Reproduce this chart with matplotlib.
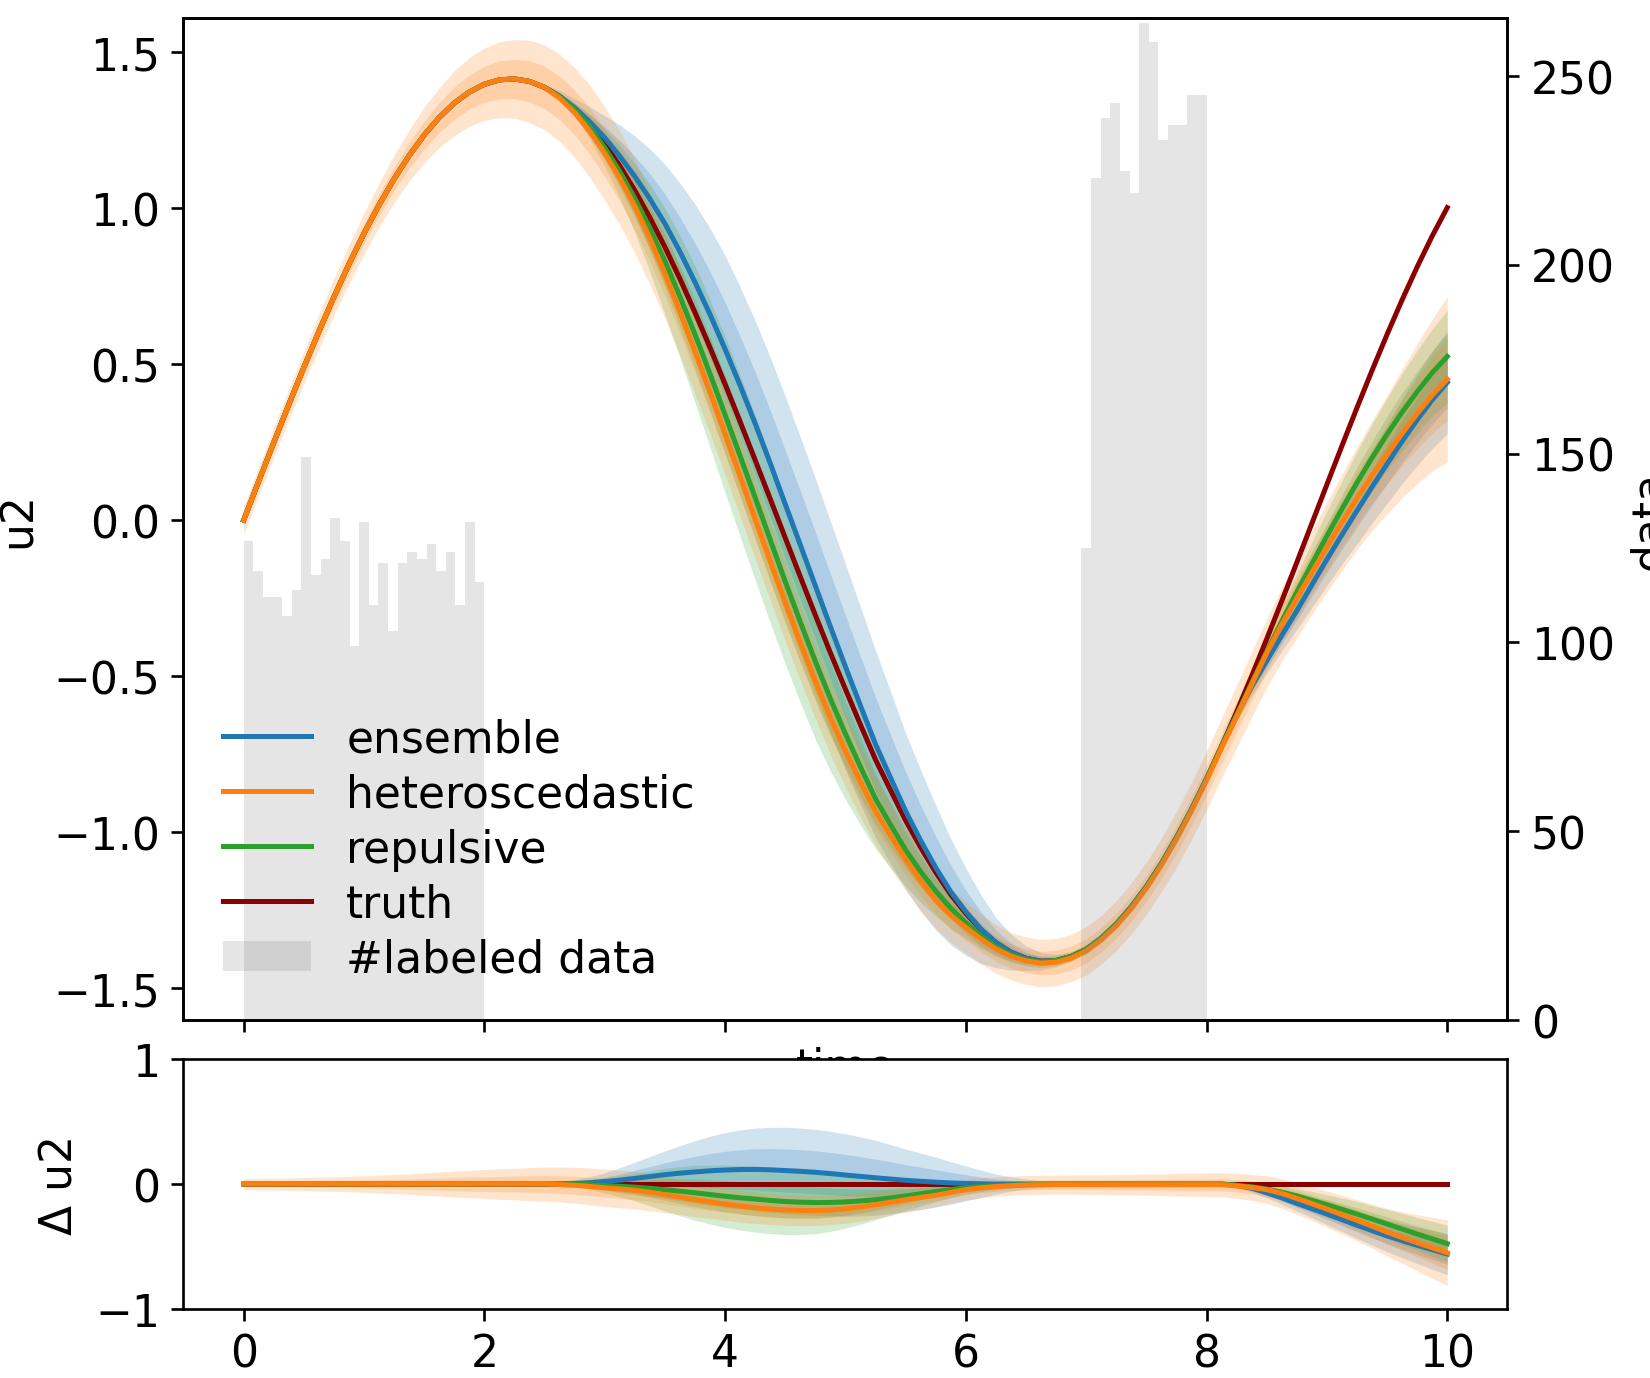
import matplotlib
matplotlib.use("Agg")
import matplotlib.pyplot as plt
import numpy as np

# sample times (read every 0.125)
T = np.linspace(0, 10, 81)

TRUTH = [0.0000, 0.1248, 0.2487, 0.3706, 0.4896, 0.6048, 0.7152, 0.8202, 0.9187, 1.0100,
         1.0935, 1.1684, 1.2342, 1.2903, 1.3367, 1.3720, 1.3969, 1.4109, 1.4139, 1.4059,
         1.3869, 1.3570, 1.3163, 1.2659, 1.2054, 1.1353, 1.0562, 0.9693, 0.8752, 0.7730,
         0.6654, 0.5528, 0.4357, 0.3152, 0.1922, 0.0679, -0.0571, -0.1816, -0.3047, -0.4255,
         -0.5421, -0.6561, -0.7680, -0.8659, -0.9625, -1.0491, -1.1286, -1.2001, -1.2601, -1.3125,
         -1.3540, -1.3847, -1.4041, -1.4137, -1.4114, -1.3985, -1.3755, -1.3400, -1.2946, -1.2394,
         -1.1744, -1.1003, -1.0175, -0.9269, -0.8290, -0.7247, -0.6146, -0.4998, -0.3810, -0.2593,
         -0.1356, -0.0107, 0.1141, 0.2380, 0.3602, 0.4796, 0.5951, 0.7061, 0.8114, 0.9105, 1.0014]

# model mean minus truth
D_ENS = [0.0] * 21 + [
    0.002, 0.005, 0.011, 0.02, 0.031, 0.045, 0.06, 0.075, 0.087, 0.097,
    0.106, 0.112, 0.116, 0.117, 0.114, 0.108, 0.102, 0.094, 0.084, 0.072,
    0.061, 0.05, 0.04, 0.03, 0.022, 0.015, 0.009, 0.005, 0.002] + [0.0] * 16 + [
    -0.01, -0.033, -0.07, -0.11, -0.155, -0.197, -0.24, -0.285, -0.33, -0.373,
    -0.415, -0.453, -0.49, -0.525, -0.56]
D_HET = [0.0] * 21 + [
    -0.004, -0.01, -0.019, -0.03, -0.039, -0.05, -0.066, -0.085, -0.105, -0.125,
    -0.143, -0.16, -0.176, -0.19, -0.2, -0.207, -0.211, -0.212, -0.207, -0.198,
    -0.183, -0.165, -0.145, -0.125, -0.107, -0.09, -0.067, -0.045, -0.03,
    -0.02, -0.013, -0.008, -0.006] + [-0.005] * 12 + [
    -0.015, -0.027, -0.045, -0.075, -0.115, -0.157, -0.2, -0.245, -0.29, -0.337,
    -0.385, -0.428, -0.47, -0.51, -0.55]
D_REP = [0.0] * 23 + [
    -0.005, -0.012, -0.018, -0.025, -0.034, -0.045, -0.057, -0.07, -0.084, -0.098,
    -0.11, -0.12, -0.131, -0.14, -0.145, -0.148, -0.147, -0.143, -0.135, -0.125,
    -0.111, -0.095, -0.078, -0.06, -0.044, -0.03, -0.02,
    -0.013, -0.008, -0.005, -0.002] + [0.0] * 12 + [
    -0.01, -0.022, -0.04, -0.065, -0.095, -0.13, -0.165, -0.202, -0.24, -0.28,
    -0.32, -0.36, -0.4, -0.438, -0.477]

# predictive std
S_ENS = [0.002] * 19 + [
    0.003, 0.005, 0.009, 0.015, 0.024, 0.035, 0.05, 0.065, 0.08, 0.095,
    0.11, 0.125, 0.138, 0.15, 0.158, 0.165, 0.17, 0.173, 0.173, 0.172,
    0.169, 0.165, 0.158, 0.15, 0.138, 0.125, 0.113, 0.1, 0.085, 0.07,
    0.055, 0.04, 0.029, 0.02, 0.014, 0.01, 0.007] + [0.005] * 9 + [
    0.007, 0.01, 0.015, 0.02, 0.025, 0.03, 0.036, 0.042, 0.047, 0.053,
    0.058, 0.063, 0.068, 0.073, 0.078, 0.082]
S_HET = [0.022, 0.023, 0.024, 0.025, 0.026, 0.0275, 0.029, 0.031, 0.033, 0.035,
         0.038, 0.041, 0.045, 0.048, 0.052, 0.055, 0.058, 0.061, 0.063, 0.066,
         0.068, 0.07, 0.072, 0.074, 0.075, 0.075, 0.075, 0.074, 0.072, 0.07,
         0.068, 0.066, 0.065, 0.064, 0.063, 0.062, 0.062, 0.061, 0.06, 0.059,
         0.058, 0.057, 0.055, 0.053, 0.05, 0.048, 0.045, 0.043, 0.041, 0.04,
         0.039, 0.038, 0.038, 0.038, 0.038, 0.038, 0.039, 0.039, 0.04, 0.041,
         0.042, 0.043, 0.045, 0.046, 0.047, 0.048, 0.05, 0.052, 0.055, 0.059,
         0.063, 0.067, 0.072, 0.077, 0.082, 0.088, 0.095, 0.103, 0.112, 0.122, 0.132]
S_REP = [0.003] * 21 + [
    0.006, 0.01, 0.019, 0.03, 0.042, 0.055, 0.07, 0.085, 0.098, 0.11,
    0.118, 0.125, 0.129, 0.132, 0.133, 0.132, 0.129, 0.125, 0.116, 0.105,
    0.093, 0.08, 0.069, 0.058, 0.049, 0.04, 0.032, 0.025, 0.02, 0.015,
    0.012, 0.01, 0.009] + [0.008] * 11 + [
    0.009, 0.01, 0.015, 0.02, 0.025, 0.03, 0.035, 0.04, 0.045, 0.05,
    0.054, 0.058, 0.062, 0.066, 0.07, 0.074]

# labeled data histogram (bin width 0.08)
BIN_W = 0.08
LEFT_START, RIGHT_START = 0.0, 6.96
COUNTS_LEFT = [127, 119, 112, 112, 107, 114, 149, 118, 122, 133, 127, 99, 132,
               110, 121, 103, 121, 124, 122, 126, 119, 124, 110, 132, 116]
COUNTS_RIGHT = [125, 223, 239, 243, 225, 219, 264, 259, 233, 237, 237, 245, 245]

MODELS = [  # draw order
    ("ensemble", D_ENS, S_ENS, "tab:blue"),
    ("repulsive", D_REP, S_REP, "tab:green"),
    ("heteroscedastic", D_HET, S_HET, "tab:orange"),
]
LEGEND_ORDER = ["ensemble", "heteroscedastic", "repulsive", "truth", "#labeled data"]

plt.rcParams["font.size"] = 13.2

fig = plt.figure(figsize=(6.875, 5.7458), dpi=240)
ax = fig.add_axes([0.1112, 0.2596, 0.8024, 0.7266])
ax2 = ax.twinx()
bx = fig.add_axes([0.1112, 0.0500, 0.8024, 0.1813])

truth = np.array(TRUTH)
handles = {}

for name, d, s, c in MODELS:
    d, s = np.array(d), np.array(s)
    mean = truth + d
    for k in (2, 1):
        ax.fill_between(T, mean - k * s, mean + k * s, color=c, alpha=0.2, lw=0)
        bx.fill_between(T, d - k * s, d + k * s, color=c, alpha=0.2, lw=0)

handles["truth"], = ax.plot(T, truth, color="darkred", label="truth")
bx.plot(T, np.zeros_like(truth), color="darkred")
for name, d, s, c in MODELS:
    d = np.array(d)
    handles[name], = ax.plot(T, truth + d, color=c, label=name)
    bx.plot(T, d, color=c)

lefts = np.concatenate([LEFT_START + BIN_W * np.arange(len(COUNTS_LEFT)),
                        RIGHT_START + BIN_W * np.arange(len(COUNTS_RIGHT))])
bars = ax2.bar(lefts, COUNTS_LEFT + COUNTS_RIGHT, width=BIN_W, align="edge",
               color="gray", alpha=0.2, label="#labeled data")
handles["#labeled data"] = bars

ax.set_xlim(-0.5, 10.5)
ax.set_xticks(range(0, 11, 2))
ax.tick_params(labelbottom=False)
ax.set_ylim(-1.602, 1.609)
ax.set_yticks([-1.5, -1.0, -0.5, 0.0, 0.5, 1.0, 1.5])
ax.set_xlabel("time")
ax.set_ylabel("u2")
ax2.set_ylim(0, 265.4)
ax2.set_ylabel("data")

bx.set_xlim(-0.5, 10.5)
bx.set_xticks(range(0, 11, 2))
bx.set_ylim(-1, 1)
bx.set_yticks([-1, 0, 1])
bx.set_ylabel("Δ u2")

ax2.legend([handles[k] for k in LEGEND_ORDER], LEGEND_ORDER, loc="lower left",
           frameon=False, labelspacing=0.27)

fig.savefig("out.png", dpi=240)
